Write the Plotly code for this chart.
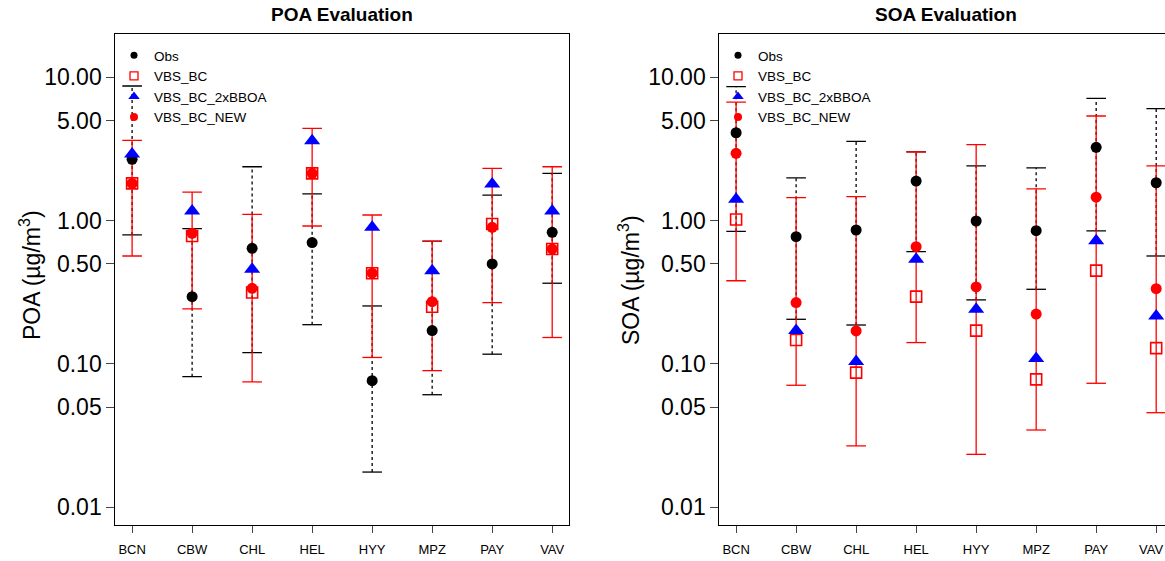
import plotly.graph_objects as go

sites = ["BCN", "CBW", "CHL", "HEL", "HYY", "MPZ", "PAY", "VAV"]

# ---------------- POA ----------------
poa_obs      = [2.68, 0.295, 0.641, 0.703, 0.0764, 0.171, 0.499, 0.83]
poa_obs_hi   = [8.71, 0.879, 2.38, 1.54, 0.254, 0.72, 1.51, 2.14]
poa_obs_lo   = [0.795, 0.0815, 0.12, 0.188, 0.0176, 0.061, 0.117, 0.366]
poa_bc       = [1.82, 0.782, 0.315, 2.14, 0.43, 0.251, 0.948, 0.634]
poa_2xbboa   = [2.92, 1.17, 0.458, 3.62, 0.899, 0.448, 1.80, 1.17]
poa_new      = [1.82, 0.817, 0.337, 2.14, 0.43, 0.272, 0.899, 0.634]
poa_new_hi   = [3.64, 1.585, 1.108, 4.41, 1.096, 0.718, 2.32, 2.38]
poa_new_lo   = [0.567, 0.242, 0.0749, 0.918, 0.111, 0.0898, 0.268, 0.153]

# ---------------- SOA ----------------
soa_obs      = [4.11, 0.773, 0.861, 1.89, 0.995, 0.851, 3.25, 1.84]
soa_obs_hi   = [8.61, 1.99, 3.58, 3.02, 2.41, 2.34, 7.15, 6.05]
soa_obs_lo   = [0.843, 0.205, 0.187, 0.608, 0.28, 0.332, 0.848, 0.567]
soa_bc       = [1.02, 0.147, 0.087, 0.295, 0.171, 0.078, 0.448, 0.129]
soa_2xbboa   = [1.41, 0.171, 0.104, 0.538, 0.241, 0.109, 0.725, 0.216]
soa_new      = [2.95, 0.268, 0.170, 0.659, 0.345, 0.223, 1.46, 0.335]
soa_new_hi   = [6.73, 1.45, 1.47, 3.02, 3.39, 1.67, 5.38, 2.41]
soa_new_lo   = [0.381, 0.071, 0.0268, 0.141, 0.0234, 0.0346, 0.0733, 0.0457]

ytickvals = [0.01, 0.05, 0.1, 0.5, 1, 5, 10]
yticktext = ["0.01", "0.05", "0.10", "0.50", "1.00", "5.00", "10.00"]

FONT = "Liberation Sans, Arial, Helvetica, sans-serif"
W, H = 1165, 561

fig = go.Figure()


def bar_traces(lo, hi, color, dash, xa, ya):
    xs, ys = [], []
    for i, (a, b) in enumerate(zip(lo, hi)):
        xs += [i, i, None]
        ys += [a, b, None]
    fig.add_trace(go.Scatter(x=xs, y=ys, mode="lines", xaxis=xa, yaxis=ya,
                             line=dict(color=color, width=1.3, dash=dash),
                             showlegend=False, hoverinfo="skip"))
    idx = list(range(len(lo)))
    fig.add_trace(go.Scatter(x=idx + idx, y=list(lo) + list(hi), mode="markers",
                             xaxis=xa, yaxis=ya, showlegend=False, hoverinfo="skip",
                             marker=dict(symbol="line-ew", size=14, color=color,
                                         line=dict(color=color, width=1.3))))


def panel(obs, obs_lo, obs_hi, bc, bb, new, new_lo, new_hi, xa, ya, legend):
    idx = list(range(len(sites)))
    bar_traces(obs_lo, obs_hi, "black", "3px,3px", xa, ya)
    bar_traces(new_lo, new_hi, "red", "solid", xa, ya)
    fig.add_trace(go.Scatter(x=idx, y=obs, mode="markers", xaxis=xa, yaxis=ya, showlegend=False,
                             marker=dict(symbol="circle", size=11, color="black")))
    fig.add_trace(go.Scatter(x=idx, y=bc, mode="markers", xaxis=xa, yaxis=ya, showlegend=False,
                             marker=dict(symbol="square-open", size=11, color="red",
                                         line=dict(color="red", width=1.6))))
    fig.add_trace(go.Scatter(x=idx, y=bb, mode="markers", xaxis=xa, yaxis=ya, showlegend=False,
                             marker=dict(symbol="triangle-up", size=14, color="blue")))
    fig.add_trace(go.Scatter(x=idx, y=new, mode="markers", xaxis=xa, yaxis=ya, showlegend=False,
                             marker=dict(symbol="circle", size=11, color="red")))
    # legend entries
    leg = [("Obs", dict(symbol="circle", size=7, color="black")),
           ("VBS_BC", dict(symbol="square-open", size=8, color="red", line=dict(color="red", width=1.3))),
           ("VBS_BC_2xBBOA", dict(symbol="triangle-up", size=10, color="blue")),
           ("VBS_BC_NEW", dict(symbol="circle", size=8, color="red"))]
    for name, mk in leg:
        fig.add_trace(go.Scatter(x=[None], y=[None], mode="markers", name=name, xaxis=xa, yaxis=ya,
                                 marker=mk, legend=legend, showlegend=True))


panel(poa_obs, poa_obs_lo, poa_obs_hi, poa_bc, poa_2xbboa, poa_new, poa_new_lo, poa_new_hi,
      "x", "y", "legend")
panel(soa_obs, soa_obs_lo, soa_obs_hi, soa_bc, soa_2xbboa, soa_new, soa_new_lo, soa_new_hi,
      "x2", "y2", "legend2")

ybot, ytop = 525, 34
ydom = [(H - ybot) / H, (H - ytop) / H]
yrange = [-2.124, 1.303]

xl0, xl1 = 115.3, 569
xr0 = 719.3
px_per = (xl1 - xl0) / 7.56
xrange_l = [-0.28, 7.28]
xrange_r = [-0.28, -0.28 + (W - xr0) / px_per]

common_x = dict(tickvals=list(range(len(sites))), showgrid=False, zeroline=False,
                showline=True, linecolor="black", linewidth=1, ticks="outside", ticklen=7,
                tickcolor="#444", tickfont=dict(family=FONT, size=13, color="black"),
                ticklabelstandoff=5)
common_y = dict(type="log", range=yrange, tickvals=ytickvals, ticktext=yticktext, showgrid=False,
                zeroline=False, showline=True, linecolor="black", linewidth=1, ticks="outside",
                ticklen=8, tickcolor="#444", tickfont=dict(family=FONT, size=23, color="black"),
                domain=ydom)

legend_common = dict(xanchor="left", yanchor="top", bgcolor="rgba(0,0,0,0)",
                     font=dict(family=FONT, size=13.5, color="black"),
                     tracegroupgap=0, itemsizing="trace")

# the last site label of the right panel is cut by the page edge: draw it as an
# edge-anchored text so it stays on the page
right_ticktext = sites[:-1] + [""]

fig.update_layout(
    width=W, height=H, margin=dict(l=0, r=0, t=0, b=0),
    paper_bgcolor="white", plot_bgcolor="white",
    xaxis=dict(common_x, ticktext=sites, domain=[xl0 / W, xl1 / W], range=xrange_l,
               anchor="y", mirror=True),
    yaxis=dict(common_y, anchor="x", mirror=True),
    xaxis2=dict(common_x, ticktext=right_ticktext, domain=[xr0 / W, 1.0], range=xrange_r,
                anchor="y2", mirror=True),
    yaxis2=dict(common_y, anchor="x2", mirror=False),
    legend=dict(legend_common, x=(132 - 18) / W, y=1 - 40 / H),
    legend2=dict(legend_common, x=(736 - 18) / W, y=1 - 40 / H),
    showlegend=True,
    annotations=[
        dict(text="<b>POA Evaluation</b>", x=(xl0 + xl1) / 2 / W, y=1 - 15 / H, xref="paper",
             yref="paper", xanchor="center", yanchor="middle", showarrow=False,
             font=dict(family=FONT, size=19, color="black")),
        dict(text="<b>SOA Evaluation</b>", x=(xr0 + xr0 + (xl1 - xl0)) / 2 / W, y=1 - 15 / H,
             xref="paper", yref="paper", xanchor="center", yanchor="middle", showarrow=False,
             font=dict(family=FONT, size=19, color="black")),
        dict(text="POA (µg/m<sup>3</sup>)", x=30 / W, y=1 - 275 / H, xref="paper", yref="paper",
             xanchor="center", yanchor="middle", textangle=-90, showarrow=False,
             font=dict(family=FONT, size=23, color="black")),
        dict(text="SOA (µg/m<sup>3</sup>)", x=629 / W, y=1 - 280 / H, xref="paper", yref="paper",
             xanchor="center", yanchor="middle", textangle=-90, showarrow=False,
             font=dict(family=FONT, size=23, color="black")),
        dict(text=sites[-1], x=1.0, y=1 - 549 / H, xref="paper", yref="paper",
             xanchor="right", yanchor="middle", showarrow=False,
             font=dict(family=FONT, size=13, color="black")),
    ],
)

fig.write_html("out.html")
